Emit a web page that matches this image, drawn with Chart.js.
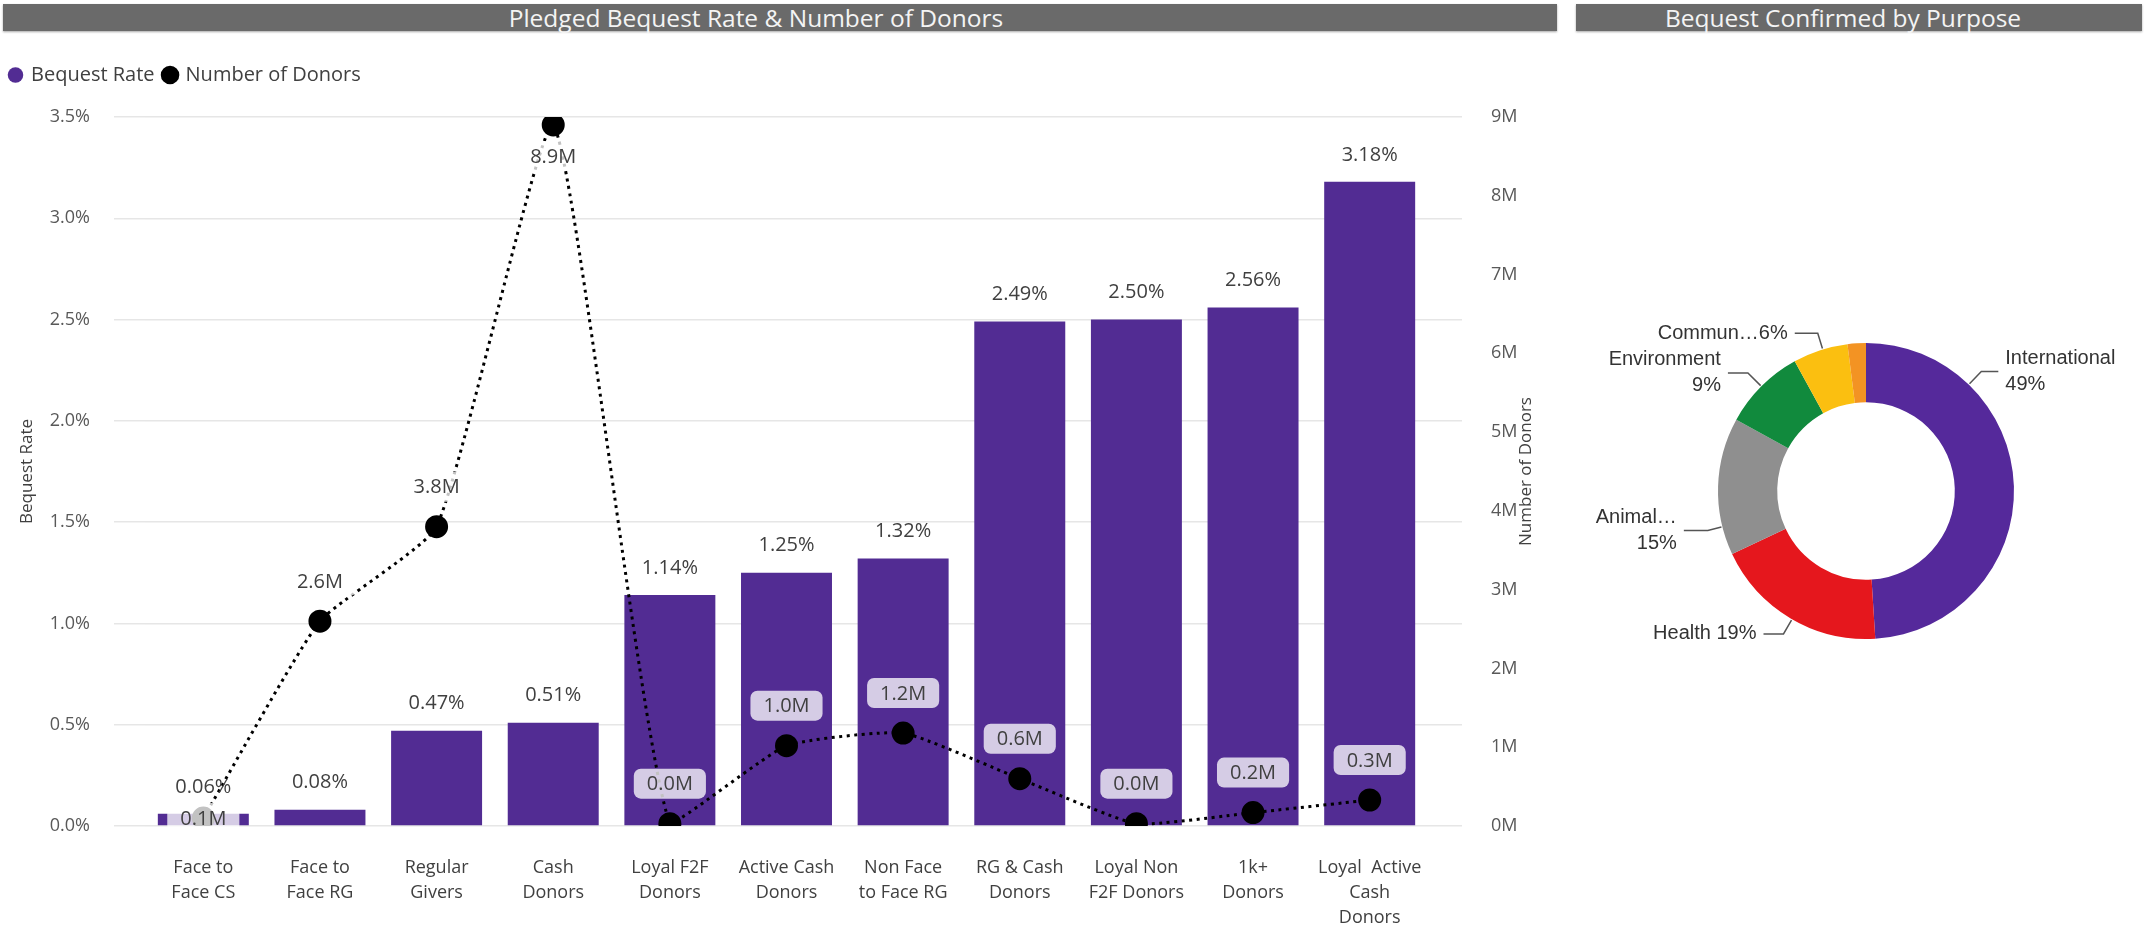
<!DOCTYPE html>
<html lang="en">
<head>
<meta charset="UTF-8">
<title>Pledged Bequest Rate &amp; Number of Donors</title>
<script src="https://cdn.jsdelivr.net/npm/chart.js"></script>
<style>
    body {
        margin: 0;
        width: 2144px;
        height: 927px;
        background: #fff;
        position: relative;
        overflow: hidden;
        font-family: "Open Sans", Arial, sans-serif;
    }
    .hdr {
        position: absolute;
        top: 4px;
        height: 27px;
        line-height: 27px;
        background: #6a6a6a;
        color: #f4f4f4;
        font-size: 24.5px;
        text-align: center;
        box-sizing: border-box;
        box-shadow: 0 1px 2px rgba(0,0,0,0.35);
    }
    #hdrLeft { left: 3px; width: 1554px; padding-right: 48px; }
    #hdrRight { left: 1576px; width: 566px; padding-right: 32px; }
    #barWrap { position: absolute; left: 0; top: 55px; }
    #pieWrap { position: absolute; left: 1576px; top: 40px; }
</style>
</head>
<body>

<div class="hdr" id="hdrLeft">Pledged Bequest Rate &amp; Number of Donors</div>
<div class="hdr" id="hdrRight">Bequest Confirmed by Purpose</div>

<div id="barWrap"><canvas id="barChart" width="1560" height="872"></canvas></div>
<div id="pieWrap"><canvas id="pieChart" width="568" height="887"></canvas></div>

<script>
// ---- data ----
const categories = [
    ["Face to", "Face CS"],
    ["Face to", "Face RG"],
    ["Regular", "Givers"],
    ["Cash", "Donors"],
    ["Loyal F2F", "Donors"],
    ["Active Cash", "Donors"],
    ["Non Face", "to Face RG"],
    ["RG & Cash", "Donors"],
    ["Loyal Non", "F2F Donors"],
    ["1k+", "Donors"],
    ["Loyal  Active", "Cash", "Donors"]
];
const bequestRate = [0.06, 0.08, 0.47, 0.51, 1.14, 1.25, 1.32, 2.49, 2.50, 2.56, 3.18];   // %
const donorsM = [0.1, 2.6, 3.8, 8.9, 0.03, 1.02, 1.18, 0.6, 0.03, 0.17, 0.33];          // millions

const purposeLabels = ["International", "Health", "Animal\u2026", "Environment", "Commun\u2026", "Other"];
const purposeShares = [49, 19, 15, 9, 6, 2];

// ---- look ----
const purple = '#522c93';
const gridColor = '#e6e6e6';
const textColor = '#404040';
const purposeColors = ['#55299b', '#e5171d', '#8f8f8f', '#118a3d', '#fbbf10', '#f39323'];

// where each donor label sits relative to its point
const donorLabelPlace = ['center', 'above', 'above', 'below', 'above', 'above', 'above', 'above', 'above', 'above', 'above'];

// doughnut callouts: angle (deg, clockwise from top) where the leader touches the ring
const purposeCallouts = [
    { angle: 44,  side: 1,  ext: 18, run: 17, join: '\n' },
    { angle: 210, side: -1, ext: 17, run: 20, join: ' ' },
    { angle: 256, side: -1, ext: 15, run: 24, join: '\n' },
    { angle: -45, side: -1, ext: 19, run: 20, join: '\n' },
    { angle: -17, side: -1, ext: 17, run: 23, join: '' },
    null
];

Chart.defaults.font.family = '"Open Sans", Arial, sans-serif';
Chart.defaults.color = textColor;

// push chart area down a bit below the legend
const legendGap = {
    id: 'legendGap',
    beforeInit(chart) {
        const fit = chart.legend.fit;
        chart.legend.fit = function () {
            fit.bind(chart.legend)();
            this.height += 22;
        };
    }
};

// value labels for bars and the donor line, plus the right axis title
const valueLabels = {
    id: 'valueLabels',
    afterDatasetsDraw(chart) {
        const ctx = chart.ctx;
        ctx.save();
        ctx.font = '20px "Open Sans", Arial, sans-serif';
        ctx.textAlign = 'center';
        ctx.textBaseline = 'middle';

        chart.getDatasetMeta(0).data.forEach((bar, i) => {
            ctx.fillStyle = textColor;
            ctx.fillText(bequestRate[i].toFixed(2) + '%', bar.x, bar.y - 27);
        });

        chart.getDatasetMeta(1).data.forEach((pt, i) => {
            const txt = donorsM[i].toFixed(1) + 'M';
            const place = donorLabelPlace[i];
            const y = place === 'above' ? pt.y - 40 : place === 'below' ? pt.y + 31 : pt.y;
            const w = ctx.measureText(txt).width + 26;
            const h = 30;
            ctx.fillStyle = 'rgba(255,255,255,0.76)';
            ctx.beginPath();
            ctx.roundRect(pt.x - w / 2, y - h / 2, w, h, 7);
            ctx.fill();
            ctx.fillStyle = textColor;
            ctx.fillText(txt, pt.x, y + 1);
        });

        const s = chart.scales.y1;
        ctx.translate(s.left + 64, (s.top + s.bottom) / 2);
        ctx.rotate(-Math.PI / 2);
        ctx.font = '17px "Open Sans", Arial, sans-serif';
        ctx.fillStyle = textColor;
        ctx.fillText('Number of Donors', 0, 0);
        ctx.restore();
    }
};

new Chart(document.getElementById('barChart'), {
    data: {
        labels: categories,
        datasets: [
            {
                type: 'bar',
                label: 'Bequest Rate',
                data: bequestRate,
                backgroundColor: purple,
                yAxisID: 'y',
                barPercentage: 0.78,
                categoryPercentage: 1,
                order: 1
            },
            {
                type: 'line',
                label: 'Number of Donors',
                data: donorsM,
                yAxisID: 'y1',
                borderColor: '#000',
                borderWidth: 3,
                borderDash: [3, 4.5],
                pointRadius: 10,
                pointBackgroundColor: '#000',
                pointBorderColor: '#000',
                fill: false,
                tension: 0.15,
                order: 0
            }
        ]
    },
    options: {
        responsive: false,
        animation: false,
        plugins: {
            legend: {
                position: 'top',
                align: 'start',
                labels: {
                    usePointStyle: true,
                    boxWidth: 11,
                    boxHeight: 11,
                    padding: 10,
                    color: textColor,
                    font: { size: 20 },
                    sort: (a, b) => a.datasetIndex - b.datasetIndex
                }
            },
            tooltip: { enabled: false }
        },
        scales: {
            x: {
                grid: { display: false },
                border: { display: false },
                ticks: {
                    color: textColor,
                    font: { size: 18, lineHeight: 1.4 },
                    padding: 21,
                    maxRotation: 0,
                    autoSkip: false
                },
                afterFit(s) { s.height = 101; }
            },
            y: {
                position: 'left',
                min: 0,
                max: 3.5,
                ticks: {
                    stepSize: 0.5,
                    callback: v => v.toFixed(1) + '%',
                    color: '#595959',
                    font: { size: 18 },
                    padding: 24
                },
                grid: { color: gridColor, lineWidth: 1.5, drawTicks: true, tickLength: 31 },
                border: { display: false },
                title: {
                    display: true,
                    text: 'Bequest Rate',
                    color: textColor,
                    font: { size: 17 },
                    padding: { top: 17, bottom: 0 }
                },
                afterFit(s) { s.width = 145; }
            },
            yg: {
                position: 'right',
                weight: 0,
                min: 0,
                max: 3.5,
                ticks: { display: false, stepSize: 0.5 },
                grid: { drawOnChartArea: false, color: gridColor, lineWidth: 1.5, drawTicks: true, tickLength: 34 },
                border: { display: false },
                afterFit(s) { s.width = 34; }
            },
            y1: {
                position: 'right',
                weight: 1,
                min: 0,
                max: 9,
                ticks: {
                    stepSize: 1,
                    callback: v => v + 'M',
                    color: '#595959',
                    font: { size: 18 },
                    padding: 21
                },
                grid: { display: false },
                border: { display: false },
                afterFit(s) { s.width = 98; }
            }
        }
    },
    plugins: [legendGap, valueLabels]
});

// doughnut callouts with leader lines
const callouts = {
    id: 'callouts',
    afterDatasetsDraw(chart) {
        const ctx = chart.ctx;
        const arcs = chart.getDatasetMeta(0).data;
        ctx.save();
        ctx.font = '20px "Liberation Sans", Arial, sans-serif';
        ctx.fillStyle = '#333';
        ctx.strokeStyle = '#555';
        ctx.lineWidth = 1.5;
        ctx.textBaseline = 'middle';
        purposeCallouts.forEach((c, i) => {
            if (!c) return;
            const arc = arcs[i];
            const a = (c.angle - 90) * Math.PI / 180;
            const R = arc.outerRadius;
            const px = arc.x + Math.cos(a) * (R + 1);
            const py = arc.y + Math.sin(a) * (R + 1);
            const qx = arc.x + Math.cos(a) * (R + c.ext);
            const qy = arc.y + Math.sin(a) * (R + c.ext);
            const ex = qx + c.side * c.run;
            ctx.beginPath();
            ctx.moveTo(px, py);
            ctx.lineTo(qx, qy);
            ctx.lineTo(ex, qy);
            ctx.stroke();
            const lines = (purposeLabels[i] + c.join + purposeShares[i] + '%').split('\n');
            ctx.textAlign = c.side > 0 ? 'left' : 'right';
            const tx = ex + c.side * 7;
            lines.forEach((t, k) => ctx.fillText(t, tx, qy + (k - (lines.length - 1) / 2) * 26));
        });
        ctx.restore();
    }
};

new Chart(document.getElementById('pieChart'), {
    type: 'doughnut',
    data: {
        labels: purposeLabels,
        datasets: [{
            data: purposeShares,
            backgroundColor: purposeColors,
            borderWidth: 0
        }]
    },
    options: {
        responsive: false,
        animation: false,
        cutout: '60%',
        layout: { padding: { left: 142, right: 130, top: 303, bottom: 288 } },
        plugins: {
            legend: { display: false },
            tooltip: { enabled: false }
        }
    },
    plugins: [callouts]
});
</script>
</body>
</html>
